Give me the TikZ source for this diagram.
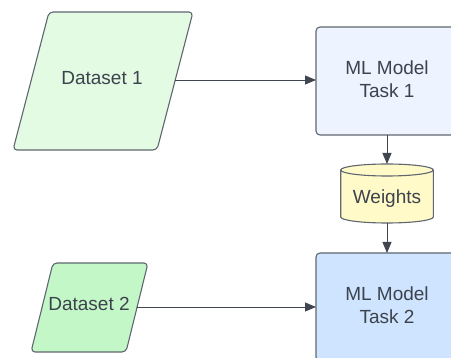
\documentclass[tikz,border=0pt]{standalone}
\usepackage{fontspec}
\setmainfont{Liberation Sans}
\usetikzlibrary{arrows.meta}
\definecolor{edge}{HTML}{5F6670}
\definecolor{ink}{HTML}{3D434C}
\definecolor{greenA}{HTML}{E3FAE3}
\definecolor{greenB}{HTML}{C3F7C8}
\definecolor{blueA}{HTML}{EDF3FF}
\definecolor{blueB}{HTML}{CFE4FF}
\definecolor{yellowA}{HTML}{FFFAC8}
\tikzset{
  shapeline/.style={draw=edge, line width=1.1pt, rounded corners=4pt},
  label/.style={text=ink, font=\fontsize{19}{23}\selectfont, align=center, inner sep=0pt},
  link/.style={draw=ink!90!edge, line width=0.9pt, -{Triangle[length=11pt,width=9pt]}},
}
\begin{document}
\begin{tikzpicture}[x=1pt, y=-1pt]
  \useasboundingbox (0,0) rectangle (451,358);
  \begin{scope}
    \clip (0,0) rectangle (451,358);
    % input datasets (parallelograms)
    \draw[shapeline, fill=greenA] (49,12) -- (193,12) -- (157,150) -- (13,150) -- cycle;
    \draw[shapeline, fill=greenB] (53,263) -- (148,263) -- (126,352) -- (31,352) -- cycle;
    % model boxes
    \draw[shapeline, fill=blueA] (316,27) rectangle (458,135);
    \draw[shapeline, fill=blueB] (316,253) rectangle (458,361);
    % weights store (cylinder)
    \draw[draw=edge, line width=1.1pt, fill=yellowA]
      (340.7,170) -- (340.7,217) arc[start angle=180, end angle=0, x radius=46.3, y radius=6]
      -- (433.3,170) arc[start angle=0, end angle=-180, x radius=46.3, y radius=6] -- cycle;
    \draw[draw=edge, line width=1.1pt] (340.7,170) arc[start angle=180, end angle=0, x radius=46.3, y radius=6];
  \end{scope}

  % labels
  \node[label] (d1) at (102,78) {Dataset 1};
  \node[label] (d2) at (89,304) {Dataset 2};
  \node[label] (m1) at (387,79) {ML Model\\Task 1};
  \node[label] (m2) at (387,305) {ML Model\\Task 2};
  \node[label] (w) at (387,198.5) {Weights};

  % connection points on the shape outlines
  \coordinate (d1e) at (175,80);
  \coordinate (d2e) at (137,307);
  \coordinate (m1w) at (316,80);
  \coordinate (m2w) at (316,307);
  \coordinate (m1s) at (387,135);
  \coordinate (wn) at (387,164);
  \coordinate (ws) at (387,223);
  \coordinate (m2n) at (387,253);

  \draw[link] (d1e) -- (m1w);
  \draw[link] (d2e) -- (m2w);
  \draw[link] (m1s) -- (wn);
  \draw[link] (ws) -- (m2n);
\end{tikzpicture}
\end{document}
